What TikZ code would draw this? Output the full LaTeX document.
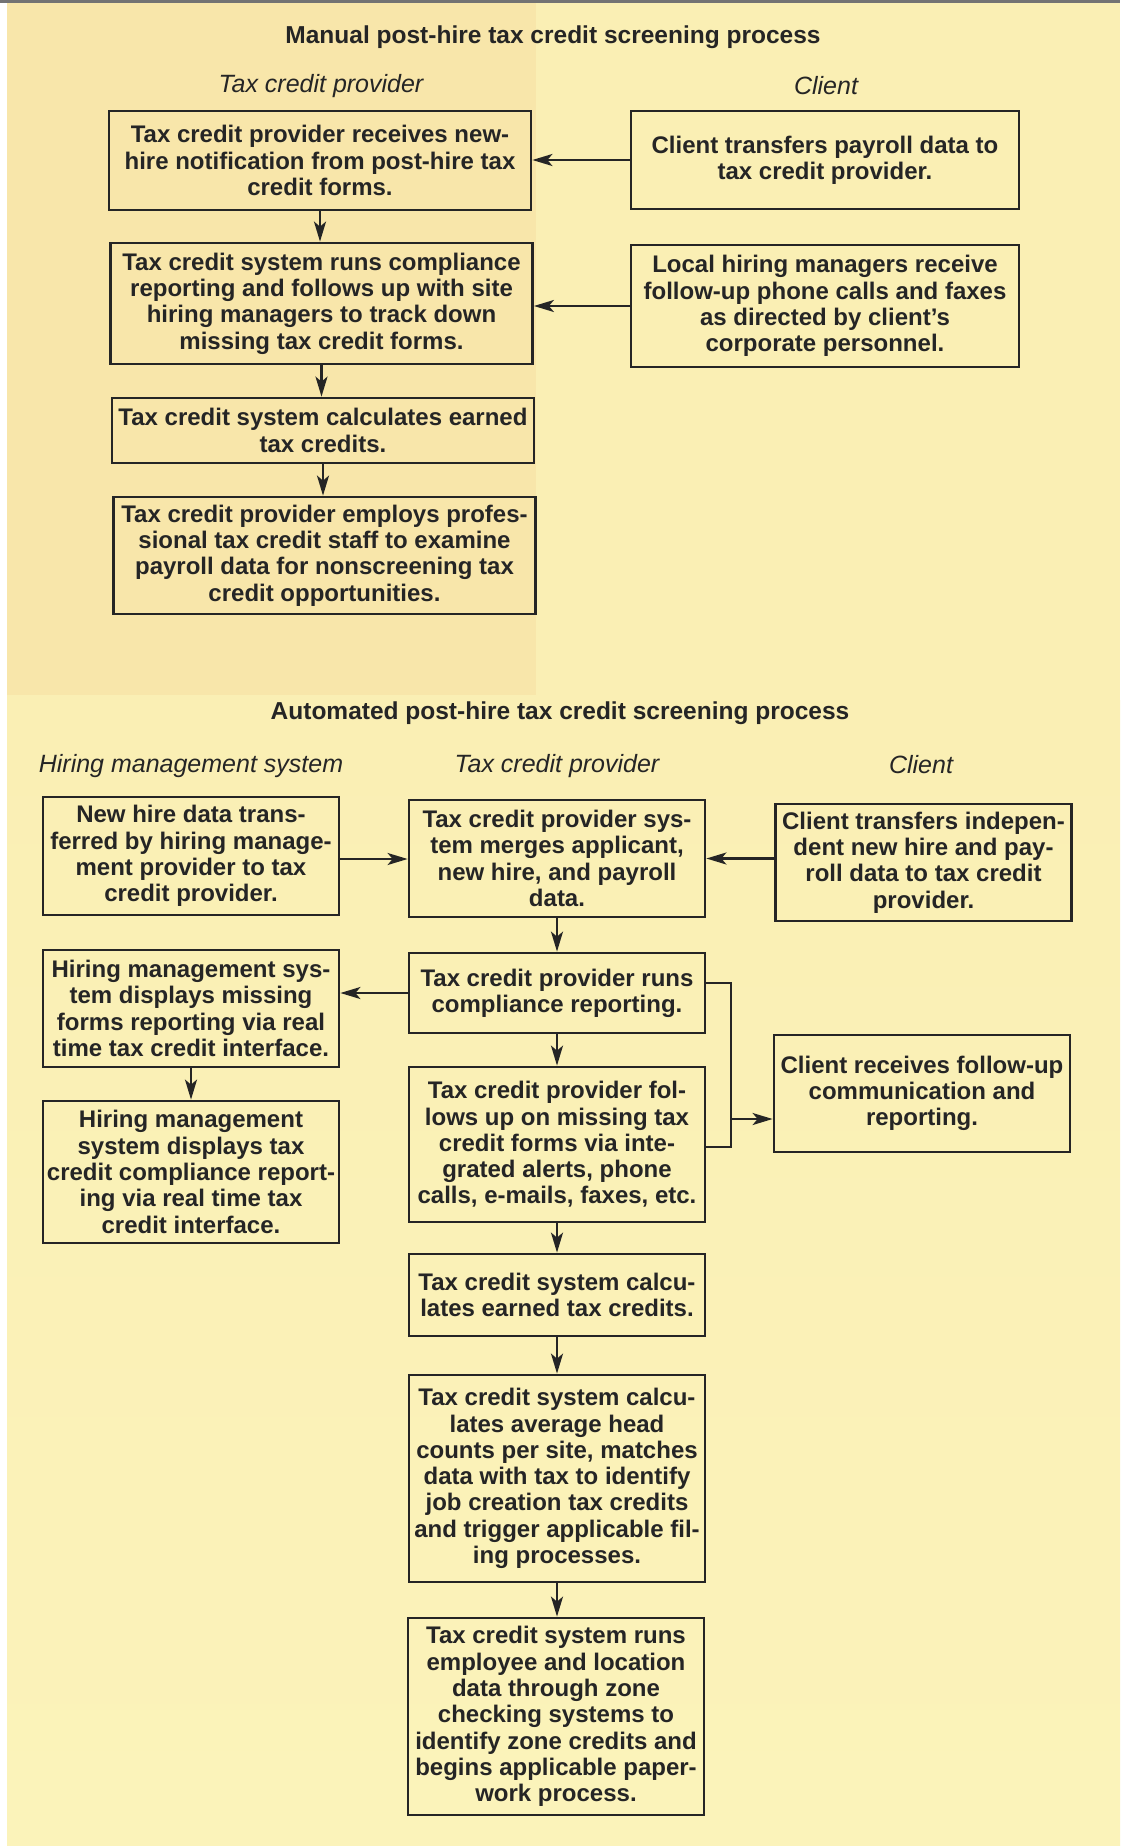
\documentclass[tikz,border=0pt]{standalone}
\usepackage{fontspec}
\setmainfont{Liberation Sans}
\usetikzlibrary{arrows.meta}
\definecolor{paper}{HTML}{FAEFB4}
\definecolor{paperlow}{HTML}{FBF3BA}
\definecolor{papertan}{HTML}{F8E6AA}
\definecolor{ink}{HTML}{252525}
\newcommand{\boxfont}{\bfseries\fontsize{24}{26.3}\selectfont}
\newcommand{\lanefont}{\itshape\fontsize{25}{30}\selectfont}
\newcommand{\titlefont}{\bfseries\fontsize{24.5}{29}\selectfont}
\tikzset{>={Stealth[length=20pt, width=12pt, inset=5pt]},
  stepbox/.style={draw=ink, line width=2.8pt, align=center, inner sep=0pt, text=ink, font=\boxfont},
  manualbox/.style={stepbox, minimum width=422pt},
  clientbox/.style={stepbox, minimum width=388pt},
  autobox/.style={stepbox, minimum width=296pt},
  flow/.style={->, draw=ink, line width=2.2pt},
  lane/.style={text=ink, font=\lanefont},
  heading/.style={text=ink, font=\titlefont}}

\begin{document}
\begin{tikzpicture}[x=1pt, y=-1pt]
    % paper
    \useasboundingbox (0,0) rectangle (1120,1846);
    \fill[paper] (0,0) rectangle (1120,1846);
    \shade[top color=paper, bottom color=paperlow, draw=none] (0,700) rectangle (1120,1846);
    \fill[papertan] (7,3) rectangle (536,695);
    \fill[white] (0,0) rectangle (7,1846);
    \fill[black!55] (0,0) rectangle (1120,3);

    % manual process
    \node[heading] (t1) at (553,37) {Manual post-hire tax credit screening process};
    \node[lane] (l1) at (321,86) {Tax credit provider};
    \node[lane] (l2) at (826,86) {Client};

    \node[manualbox, minimum height=99pt] (m1) at (320,160.5) {Tax credit provider receives new-\\hire notification from post-hire tax\\credit forms.};
    \node[manualbox, minimum height=121pt] (m2) at (321.5,303.5) {Tax credit system runs compliance\\reporting and follows up with site\\hiring managers to track down\\missing tax credit forms.};
    \node[manualbox, minimum height=65pt] (m3) at (323,430.5) {Tax credit system calculates earned\\tax credits.};
    \node[manualbox, minimum height=117pt] (m4) at (324.5,555.5) {Tax credit provider employs profes-\\sional tax credit staff to examine\\payroll data for nonscreening tax\\credit opportunities.};
    \node[clientbox, minimum height=98pt] (c1) at (825,160) {Client transfers payroll data to\\tax credit provider.};
    \node[clientbox, minimum height=122pt] (c2) at (825,306) {Local hiring managers receive\\follow-up phone calls and faxes\\as directed by client's\\corporate personnel.};

    \draw[flow] (c1.west) -- (c1.west -| m1.east);
    \draw[flow] (c2.west) -- (c2.west -| m2.east);
    \draw[flow] (m1.south) -- (m1.south |- m2.north);
    \draw[flow] (m2.south) -- (m2.south |- m3.north);
    \draw[flow] (m3.south) -- (m3.south |- m4.north);

    % automated process
    \node[heading] (t2) at (560,713) {Automated post-hire tax credit screening process};
    \node[lane] (l3) at (191,766) {Hiring management system};
    \node[lane] (l4) at (557,766) {Tax credit provider};
    \node[lane] (l5) at (921,765) {Client};

    \node[autobox, minimum height=118pt] (a1) at (191,856) {New hire data trans-\\ferred by hiring manage-\\ment provider to tax\\credit provider.};
    \node[autobox, minimum height=117pt] (a2) at (191,1008.5) {Hiring management sys-\\tem displays missing\\forms reporting via real\\time tax credit interface.};
    \node[autobox, minimum height=142pt] (a3) at (191,1172) {Hiring management\\system displays tax\\credit compliance report-\\ing via real time tax\\credit interface.};

    \node[autobox, minimum height=117pt] (b1) at (557,858.5) {Tax credit provider sys-\\tem merges applicant,\\new hire, and payroll\\data.};
    \node[autobox, minimum height=80pt] (b2) at (557,993) {Tax credit provider runs\\compliance reporting.};
    \node[autobox, minimum height=155pt] (b3) at (557,1144.5) {Tax credit provider fol-\\lows up on missing tax\\credit forms via inte-\\grated alerts, phone\\calls, e-mails, faxes, etc.};
    \node[autobox, minimum height=82pt] (b4) at (557,1295) {Tax credit system calcu-\\lates earned tax credits.};
    \node[autobox, minimum height=207pt] (b5) at (557,1478.5) {Tax credit system calcu-\\lates average head\\counts per site, matches\\data with tax to identify\\job creation tax credits\\and trigger applicable fil-\\ing processes.};
    \node[autobox, minimum height=197pt] (b6) at (556,1716.5) {Tax credit system runs\\employee and location\\data through zone\\checking systems to\\identify zone credits and\\begins applicable paper-\\work process.};

    \node[autobox, minimum height=117pt] (k1) at (923.5,862.5) {Client transfers indepen-\\dent new hire and pay-\\roll data to tax credit\\provider.};
    \node[autobox, minimum height=117pt] (k2) at (922,1093.5) {Client receives follow-up\\communication and\\reporting.};

    \draw[flow] ([yshift=-3pt]a1.east) -- ([yshift=-3pt]a1.east -| b1.west);
    \draw[flow] ([yshift=4pt]k1.west) -- ([yshift=4pt]k1.west -| b1.east);
    \draw[flow] (b2.west) -- (b2.west -| a2.east);
    \draw[flow] (a2.south) -- (a2.south |- a3.north);
    \draw[flow] (b1.south) -- (b1.south |- b2.north);
    \draw[flow] (b2.south) -- (b2.south |- b3.north);
    \draw[flow] (b3.south) -- (b3.south |- b4.north);
    \draw[flow] (b4.south) -- (b4.south |- b5.north);
    \draw[flow] (b5.south) -- (b5.south |- b6.north);

    % follow-up bracket
    \coordinate (jn) at (731,1119);
    \draw[ink, line width=2.2pt] ([yshift=10pt]b2.east) -| (jn) |- ([yshift=-2.5pt]b3.east);
    \draw[flow] (jn) -- (jn -| k2.west);
\end{tikzpicture}
\end{document}
